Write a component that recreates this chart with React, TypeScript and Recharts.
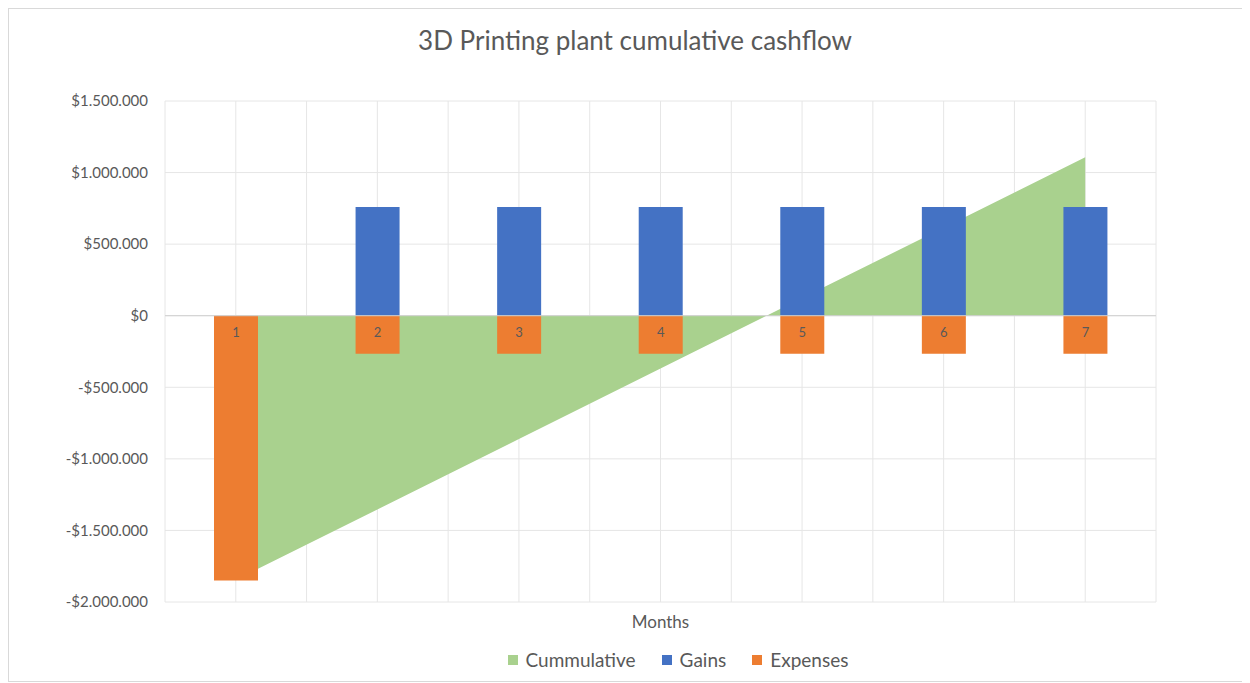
import React from "react";
import { ComposedChart, Area, Bar, XAxis, YAxis, CartesianGrid, Legend, ReferenceLine, LabelList } from "recharts";

const months = [1, 2, 3, 4, 5, 6, 7];
const gains = [0, 760000, 760000, 760000, 760000, 760000, 760000];
const expenses = [-1850000, -265000, -265000, -265000, -265000, -265000, -265000];
const cumulative = [-1845000, -1353000, -861000, -369000, 123000, 615000, 1107000];
const yTicks = [-2000000, -1500000, -1000000, -500000, 0, 500000, 1000000, 1500000];
// grid lines at month centres and half-way between them
const gridTicks = [0.5, 1, 1.5, 2, 2.5, 3, 3.5, 4, 4.5, 5, 5.5, 6, 6.5, 7, 7.5];
const xDomain: [number, number] = [0.5, 7.5];
const legendOrder = ["Cummulative", "Gains", "Expenses"];

const FONT = "Lato, 'Open Sans', sans-serif";
const TEXT = "#595959";
const colors: Record<string, string> = {
  Cummulative: "#a9d18e",
  Gains: "#4472c4",
  Expenses: "#ed7d31",
};

const data = months.map((m, i) => ({
  month: m,
  gains: gains[i],
  expenses: expenses[i],
  cumulative: cumulative[i],
}));

const money = (v: number) => {
  const s = String(Math.abs(v)).replace(/\B(?=(\d{3})+(?!\d))/g, ".");
  return (v < 0 ? "-$" : "$") + s;
};

const renderLegend = (props: any) => {
  const items = [...(props.payload || [])].sort(
    (a: any, b: any) => legendOrder.indexOf(a.value) - legendOrder.indexOf(b.value)
  );
  return (
    <div style={{ display: "flex", justifyContent: "center", gap: 26, fontFamily: FONT, fontSize: 19, color: TEXT }}>
      {items.map((p: any) => (
        <span key={p.value} style={{ display: "flex", alignItems: "center" }}>
          <span style={{ width: 10, height: 10, background: colors[p.value], marginRight: 8, display: "inline-block" }} />
          {p.value}
        </span>
      ))}
    </div>
  );
};

// vertical grid lines: map the tick values onto the plot area
const verticalLines = (props: any) => {
  const off = props?.offset;
  if (!off) return [];
  const span = xDomain[1] - xDomain[0];
  return gridTicks.map((t) => off.left + ((t - xDomain[0]) / span) * off.width);
};

export default function App() {
  return (
    <div style={{ position: "relative", width: 1240, height: 672, border: "1px solid #d9d9d9", background: "#fff" }}>
      <div style={{ position: "absolute", top: 15, left: 6, width: "100%", textAlign: "center", fontFamily: FONT, fontSize: 26, color: TEXT }}>
        3D Printing plant cumulative cashflow
      </div>
      <ComposedChart width={1238} height={670} data={data} stackOffset="sign"
        margin={{ top: 92, right: 91, left: 0, bottom: 0 }}>
        <CartesianGrid stroke="#e6e6e6" verticalCoordinatesGenerator={verticalLines} />
        <XAxis dataKey="month" type="number" domain={xDomain} ticks={gridTicks} interval={0}
          tick={false} tickLine={false} axisLine={false} height={77}
          label={{ value: "Months", position: "insideTop", offset: 14, fill: TEXT, fontSize: 17, fontFamily: FONT }} />
        <YAxis type="number" domain={[-2000000, 1500000]} ticks={yTicks} width={156}
          tickFormatter={money} axisLine={false} tickLine={false} tickSize={0} tickMargin={17}
          tick={{ fill: TEXT, fontSize: 15, fontFamily: FONT }} interval={0} />
        <Area name="Cummulative" dataKey="cumulative" type="linear" baseValue={0}
          fill={colors.Cummulative} fillOpacity={1} stroke="none" isAnimationActive={false} />
        <ReferenceLine y={0} stroke="#d0d0d0" strokeWidth={1} />
        <Bar name="Gains" dataKey="gains" stackId="a" barSize={44} fill={colors.Gains} isAnimationActive={false} />
        <Bar name="Expenses" dataKey="expenses" stackId="a" barSize={44} fill={colors.Expenses} isAnimationActive={false}>
          <LabelList dataKey="month" position="insideBottom" offset={12} fill={TEXT} fontSize={13} fontFamily={FONT} />
        </Bar>
        <Legend layout="horizontal" verticalAlign="middle" align="center" content={renderLegend}
          wrapperStyle={{ top: 639, left: 100, width: 1138 }} />
      </ComposedChart>
    </div>
  );
}
